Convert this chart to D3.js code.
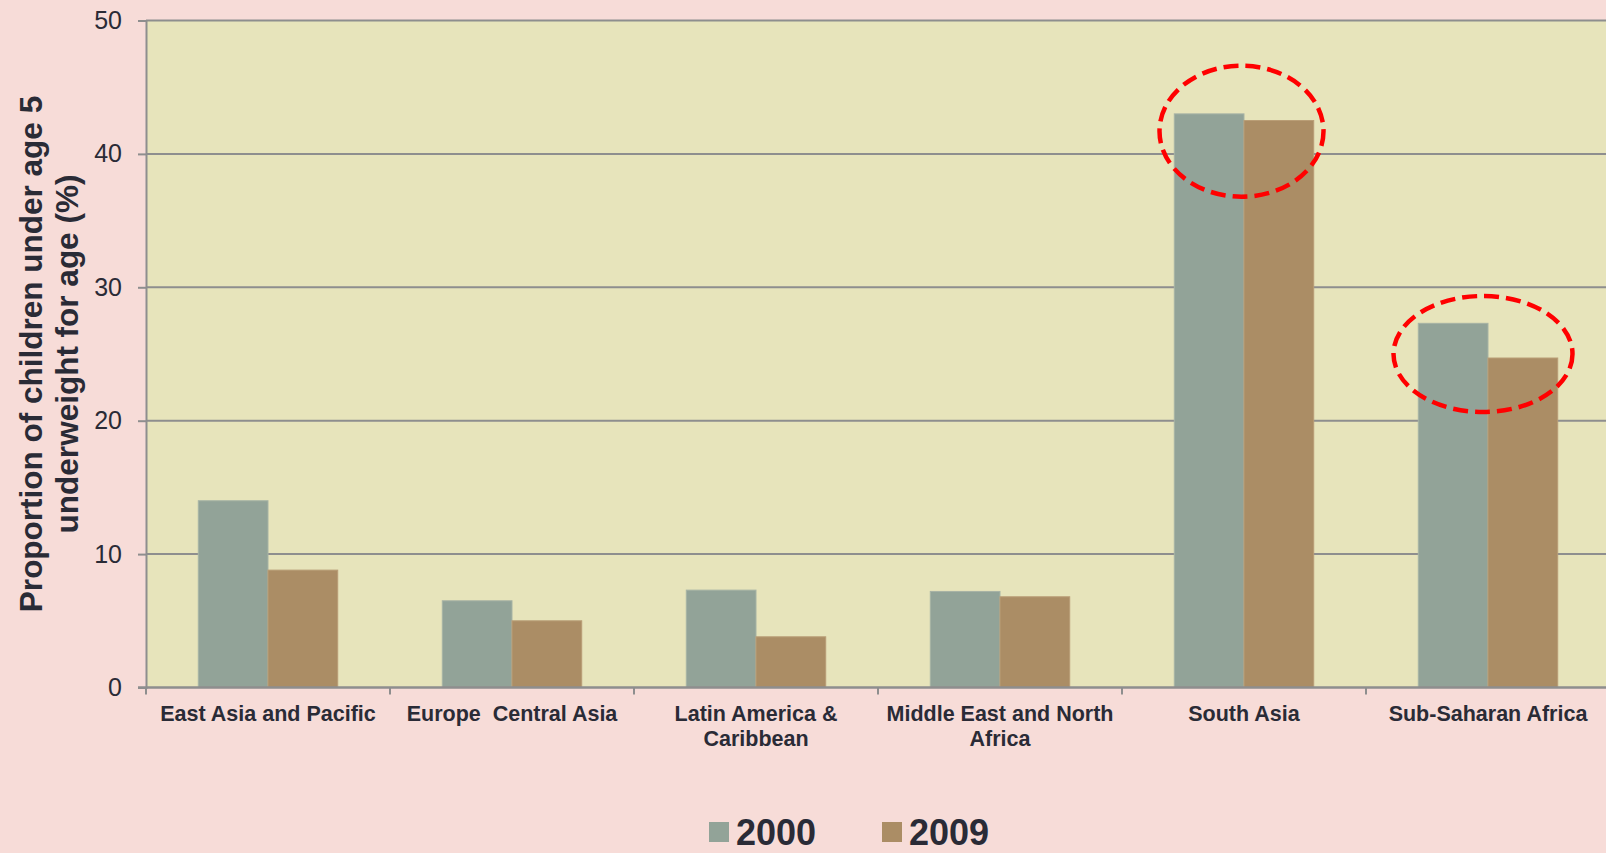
<!DOCTYPE html>
<html>
<head>
<meta charset="utf-8">
<script src="https://cdn.jsdelivr.net/npm/d3@7"></script>
<style>
  html, body { margin: 0; padding: 0; background: #f7dcd8; overflow: hidden; }
  svg { display: block; font-family: "Liberation Sans", Arial, Helvetica, sans-serif; }
</style>
</head>
<body>
<svg id="chart" width="1606" height="853"></svg>
<script>
// Underweight children by region, 2000 vs 2009
const regions = [
  "East Asia and Pacific",
  "Europe  Central Asia",
  "Latin America &\nCaribbean",
  "Middle East and North\nAfrica",
  "South Asia",
  "Sub-Saharan Africa"
];
const seriesNames = ["2000", "2009"];
const values2000 = [14.0, 6.5, 7.3, 7.2, 43.0, 27.3];
const values2009 = [8.8, 5.0, 3.8, 6.8, 42.5, 24.7];
const yTicks = [0, 10, 20, 30, 40, 50];

// Regions singled out with a dashed ring, and the value the ring centres on
const highlightRegions = ["South Asia", "Sub-Saharan Africa"];
const highlightCentres = [41.7, 25.0];

const seriesValues = [values2000, values2009];
const colors = ["#92a398", "#ab8d65"];
const edgeColors = ["#a7b3a5", "#b99d76"];
const textColor = "#2a2b36";
const gridColor = "#8e8e8e";

const svg = d3.select("#chart");
const plot = { left: 146, top: 20.5, right: 1610, bottom: 687.5 };

const x = d3.scaleBand().domain(regions).range([plot.left, plot.right]).paddingInner(0).paddingOuter(0);
const xs = d3.scaleBand().domain(seriesNames).range([0, x.bandwidth()]).paddingInner(0).paddingOuter(0.75);
const y = d3.scaleLinear().domain([0, 50]).range([plot.bottom, plot.top]);

// Plot background
svg.append("rect")
  .attr("x", plot.left).attr("y", plot.top)
  .attr("width", plot.right - plot.left).attr("height", plot.bottom - plot.top)
  .attr("fill", "#e7e4bb");

// Horizontal gridlines
svg.append("g").selectAll("line")
  .data(yTicks.filter(d => d > 0))
  .join("line")
  .attr("x1", plot.left).attr("x2", plot.right)
  .attr("y1", d => y(d)).attr("y2", d => y(d))
  .attr("stroke", gridColor).attr("stroke-width", 2);

// Bars
const rows = regions.map((r, i) => ({ region: r, vals: seriesValues.map(s => s[i]) }));
svg.append("g").selectAll("g")
  .data(rows)
  .join("g")
  .attr("transform", d => `translate(${x(d.region)},0)`)
  .selectAll("rect")
  .data(d => d.vals.map((v, k) => ({ key: seriesNames[k], v, k })))
  .join("rect")
  .attr("x", d => xs(d.key))
  .attr("y", d => y(d.v))
  .attr("width", xs.bandwidth())
  .attr("height", d => y(0) - y(d.v))
  .attr("fill", d => colors[d.k])
  .attr("stroke", d => edgeColors[d.k])
  .attr("stroke-width", 1);

// Y axis
const yAxis = svg.append("g")
  .attr("transform", `translate(${plot.left},0)`)
  .call(d3.axisLeft(y).tickValues(yTicks).tickSize(8).tickPadding(16));
yAxis.select(".domain").attr("stroke", gridColor).attr("stroke-width", 2);
yAxis.selectAll(".tick line").attr("stroke", gridColor).attr("stroke-width", 2);
yAxis.selectAll(".tick text")
  .attr("fill", textColor)
  .style("font-size", "25px");

// X axis line and category boundary ticks
const xAxis = svg.append("g");
xAxis.append("line")
  .attr("x1", plot.left - 8).attr("x2", plot.right)
  .attr("y1", plot.bottom).attr("y2", plot.bottom)
  .attr("stroke", gridColor).attr("stroke-width", 2.5);
xAxis.selectAll(".bt")
  .data(regions.map(r => x(r)).concat([plot.right]))
  .join("line")
  .attr("class", "bt")
  .attr("x1", d => d).attr("x2", d => d)
  .attr("y1", plot.bottom).attr("y2", plot.bottom + 7)
  .attr("stroke", gridColor).attr("stroke-width", 2);

// Category labels (wrapped on newline)
const labels = xAxis.selectAll(".cl")
  .data(regions)
  .join("text")
  .attr("class", "cl")
  .attr("x", d => x(d) + x.bandwidth() / 2)
  .attr("y", plot.bottom + 33)
  .attr("text-anchor", "middle")
  .attr("fill", textColor)
  .style("font-size", "21.5px")
  .style("font-weight", "bold")
  .style("white-space", "pre");
labels.each(function(d) {
  const t = d3.select(this);
  d.split("\n").forEach((line, i) => {
    t.append("tspan")
      .attr("x", x(d) + x.bandwidth() / 2)
      .attr("dy", i === 0 ? 0 : 25)
      .text(line);
  });
});

// Y axis title
const yMid = (plot.top + plot.bottom) / 2;
const yTitle = svg.append("text")
  .attr("transform", `translate(43,${yMid}) rotate(-90)`)
  .attr("text-anchor", "middle")
  .attr("fill", textColor)
  .style("font-size", "31.5px")
  .style("font-weight", "bold");
yTitle.append("tspan").attr("x", 0).attr("dy", -1).text("Proportion of children under age 5");
yTitle.append("tspan").attr("x", 0).attr("dy", 36).text("underweight for age (%)");

// Dashed rings around the highlighted regions
const ringSize = [
  { dx: -2.5, rx: 82, ry: 65.5 },
  { dx: -5, rx: 89.5, ry: 58 }
];
svg.append("g").selectAll("ellipse")
  .data(highlightRegions.map((r, i) => ({ r, c: highlightCentres[i], s: ringSize[i] })))
  .join("ellipse")
  .attr("cx", d => x(d.r) + x.bandwidth() / 2 + d.s.dx)
  .attr("cy", d => y(d.c))
  .attr("rx", d => d.s.rx)
  .attr("ry", d => d.s.ry)
  .attr("fill", "none")
  .attr("stroke", "#ff0000")
  .attr("stroke-width", 4.5)
  .attr("stroke-dasharray", "15 7");

// Legend
const legend = svg.append("g");
const legendX = [709, 882];
seriesNames.forEach((name, i) => {
  legend.append("rect")
    .attr("x", legendX[i]).attr("y", 822)
    .attr("width", 20).attr("height", 20)
    .attr("fill", colors[i]);
  legend.append("text")
    .attr("x", legendX[i] + 27).attr("y", 845)
    .attr("fill", textColor)
    .style("font-size", "36px")
    .style("font-weight", "bold")
    .text(name);
});
</script>
</body>
</html>
